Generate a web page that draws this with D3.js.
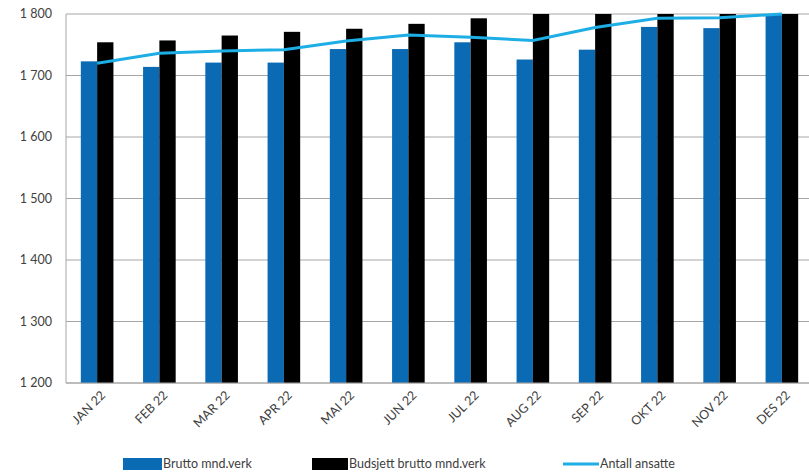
<!DOCTYPE html>
<meta charset="utf-8">
<head>
<style>
body { margin: 0; background: #fff; }
svg { display: block; font-family: Lato, "Open Sans", sans-serif; }
.ylab, .xlab, .legend text { fill: #404040; font-size: 12.5px; }
</style>
</head>
<body>
<div id="chart"></div>
<script src="https://d3js.org/d3.v7.min.js"></script>
<script>

// data
var months = ["JAN 22","FEB 22","MAR 22","APR 22","MAI 22","JUN 22","JUL 22","AUG 22","SEP 22","OKT 22","NOV 22","DES 22"];
var brutto = [1723, 1714, 1721, 1721, 1743, 1743, 1754, 1726, 1742, 1779, 1777, 1802];
var budsjett = [1754, 1757, 1765, 1771, 1776, 1784, 1793, 1803, 1810, 1818, 1826, 1834];
var ansatte = [1720, 1736, 1740, 1742, 1756, 1766, 1762, 1757, 1778, 1793, 1794, 1800];
var yTicks = [1200, 1300, 1400, 1500, 1600, 1700, 1800];

var W = 809, H = 473;
var margin = {top: 14, right: -4, bottom: 90, left: 66};
var width = W - margin.left - margin.right,
    height = H - margin.top - margin.bottom;

var svg = d3.select("#chart").append("svg")
    .attr("width", W)
    .attr("height", H);

var g = svg.append("g")
    .attr("transform", "translate(" + margin.left + "," + margin.top + ")");

var x = d3.scaleBand().domain(months).range([0, width]);
var y = d3.scaleLinear().domain([1200, 1800]).range([height, 0]);

// gridlines
g.selectAll(".grid")
  .data(yTicks)
  .enter().append("line")
    .attr("x1", 0).attr("x2", width)
    .attr("y1", function(d) { return y(d); })
    .attr("y2", function(d) { return y(d); })
    .attr("stroke", "#a6a6a6")
    .attr("stroke-width", 1);

// y labels, with space as thousands separator
g.selectAll(".ylab")
  .data(yTicks)
  .enter().append("text")
    .attr("class", "ylab")
    .attr("x", -14)
    .attr("y", function(d) { return y(d); })
    .attr("dy", "0.35em")
    .attr("text-anchor", "end")
    .attr("xml:space", "preserve")
    .text(function(d) { return d3.format(",")(d).replace(",", " "); });

g.append("clipPath").attr("id", "clip")
  .append("rect").attr("x", 0).attr("y", 0).attr("width", width).attr("height", height);

var bw = 16.3;
var bars = g.append("g").attr("clip-path", "url(#clip)");

bars.selectAll(".b1")
  .data(brutto)
  .enter().append("rect")
    .attr("x", function(d, i) { return x(months[i]) + x.bandwidth() / 2 - bw; })
    .attr("y", function(d) { return y(d); })
    .attr("width", bw)
    .attr("height", function(d) { return height - y(d); })
    .attr("fill", "#0a6ab4");

bars.selectAll(".b2")
  .data(budsjett)
  .enter().append("rect")
    .attr("x", function(d, i) { return x(months[i]) + x.bandwidth() / 2; })
    .attr("y", function(d) { return y(d); })
    .attr("width", bw)
    .attr("height", function(d) { return height - y(d); })
    .attr("fill", "#000");

// axes lines
g.append("line").attr("x1", 0).attr("x2", 0).attr("y1", 0).attr("y2", height)
  .attr("stroke", "#a6a6a6");
g.append("line").attr("x1", 0).attr("x2", width).attr("y1", height).attr("y2", height)
  .attr("stroke", "#a6a6a6");

// line
var line = d3.line()
  .x(function(d, i) { return x(months[i]) + x.bandwidth() / 2; })
  .y(function(d) { return y(d); });

g.append("path")
  .datum(ansatte)
  .attr("d", line)
  .attr("fill", "none")
  .attr("stroke", "#1eaee6")
  .attr("stroke-width", 3);

// x labels
g.selectAll(".xlab")
  .data(months)
  .enter().append("text")
    .attr("class", "xlab")
    .attr("transform", function(d) {
      return "translate(" + (x(d) + x.bandwidth() / 2 + 6) + "," + (height + 10) + ") rotate(-45)";
    })
    .attr("text-anchor", "end")
    .attr("dy", "0.35em")
    .text(function(d) { return d; });

// legend
var leg = [
  {name: "Brutto mnd.verk", color: "#0a6ab4", x: 123, w: 39, type: "rect"},
  {name: "Budsjett brutto mnd.verk", color: "#000", x: 312, w: 36, type: "rect"},
  {name: "Antall ansatte", color: "#1eaee6", x: 563, w: 36, type: "line"}
];
var lg = svg.selectAll(".legend")
  .data(leg)
  .enter().append("g")
    .attr("class", "legend")
    .attr("transform", function(d) { return "translate(" + d.x + ",464)"; });

lg.filter(function(d) { return d.type == "rect"; })
  .append("rect")
    .attr("x", 0).attr("y", -6)
    .attr("width", function(d) { return d.w; })
    .attr("height", 12)
    .attr("fill", function(d) { return d.color; });

lg.filter(function(d) { return d.type == "line"; })
  .append("line")
    .attr("x1", 0).attr("x2", function(d) { return d.w; })
    .attr("y1", 0).attr("y2", 0)
    .attr("stroke", function(d) { return d.color; })
    .attr("stroke-width", 3);

lg.append("text")
  .attr("x", function(d) { return d.w + 1; })
  .attr("y", 0)
  .attr("dy", "0.35em")
  .text(function(d) { return d.name; });

</script>
</body>
